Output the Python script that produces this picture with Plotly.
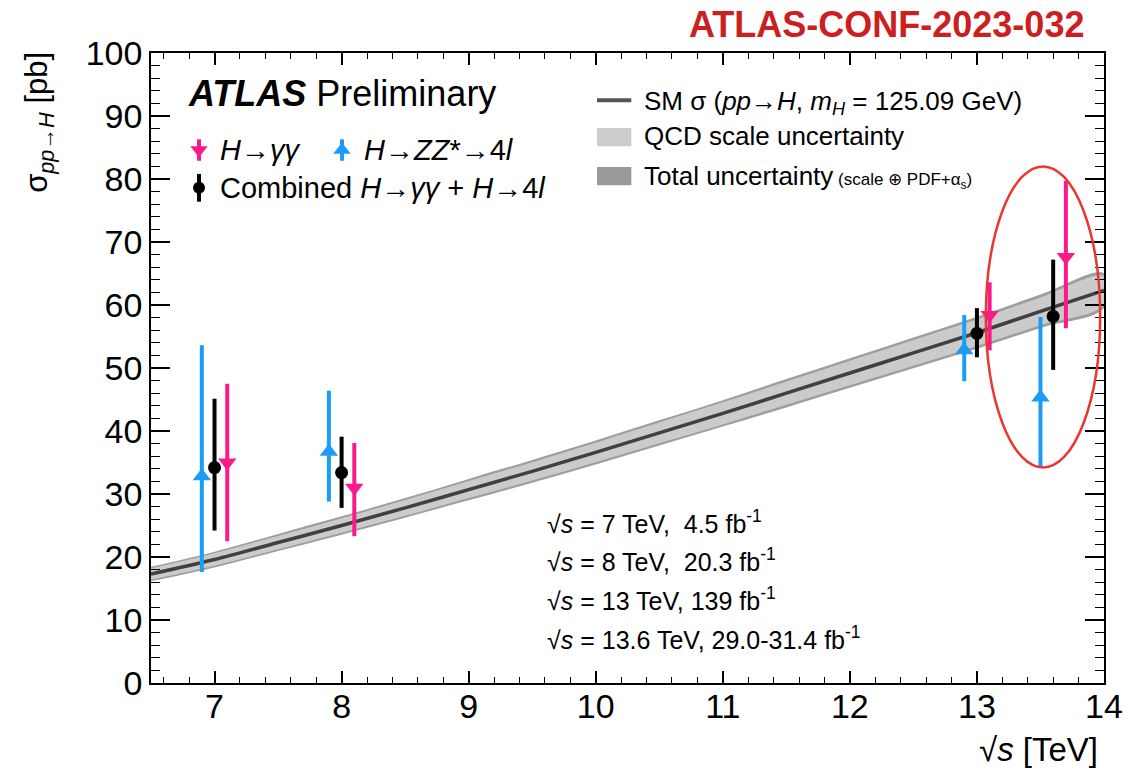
import plotly.graph_objects as go

# ---- measured cross sections (pb) at each centre-of-mass energy (TeV) ----
energies = [7.0, 8.0, 13.0, 13.6]
x_offset = 0.1  # horizontal displacement of the individual channels

gg_val = [35.0, 31.0, 58.4, 67.6]
gg_up = [12.5, 7.1, 5.2, 12.1]
gg_dn = [12.5, 7.7, 5.6, 11.3]

zz_val = [32.8, 36.7, 52.8, 45.3]
zz_up = [20.8, 9.7, 5.6, 12.8]
zz_dn = [15.2, 7.9, 4.9, 11.0]

comb_val = [34.2, 33.4, 55.5, 58.2]
comb_up = [10.9, 5.7, 4.0, 9.0]
comb_dn = [10.0, 5.6, 3.8, 8.5]

# ---- SM prediction and its uncertainty bands ----
sm_sqrts = [6.5, 7.0, 7.5, 8.0, 8.5, 9.0, 9.5, 10.0, 10.5, 11.0, 11.5,
            12.0, 12.5, 13.0, 13.5, 14.0]
sm_xsec = [17.3, 19.6, 22.3, 25.0, 27.8, 30.7, 33.6, 36.6, 39.7, 42.8, 46.0,
           49.2, 52.4, 55.6, 59.0, 62.3]
tot_unc = [1.15, 1.25, 1.35, 1.45, 1.55, 1.7, 1.8, 1.9, 2.0, 2.1, 2.25, 2.35,
           2.45, 2.55, 2.65, 2.75]
scale_unc = [0.9, 1.0, 1.05, 1.15, 1.25, 1.35, 1.45, 1.55, 1.65, 1.75, 1.85,
             1.95, 2.05, 2.1, 2.2, 2.25]

lumi_lines = [
    "√<i>s</i> = 7 TeV,  4.5 fb<sup>-1</sup>",
    "√<i>s</i> = 8 TeV,  20.3 fb<sup>-1</sup>",
    "√<i>s</i> = 13 TeV, 139 fb<sup>-1</sup>",
    "√<i>s</i> = 13.6 TeV, 29.0-31.4 fb<sup>-1</sup>",
]

PINK = "#fa1a8c"
BLUE = "#1a9cf7"
FONT = "Liberation Sans, Arial, Helvetica, sans-serif"

fig = go.Figure()


def band(unc, color):
    upper = [v + u for v, u in zip(sm_xsec, unc)]
    lower = [v - u for v, u in zip(sm_xsec, unc)]
    fig.add_trace(go.Scatter(
        x=sm_sqrts + sm_sqrts[::-1], y=upper + lower[::-1],
        fill="toself", fillcolor=color, mode="lines",
        line=dict(width=0, color=color, shape="spline"),
        hoverinfo="skip", showlegend=False))


band(tot_unc, "#9e9e9e")
band(scale_unc, "#cbcbcb")
fig.add_trace(go.Scatter(
    x=sm_sqrts, y=sm_xsec, mode="lines",
    line=dict(color="#404040", width=3.5, shape="spline"),
    hoverinfo="skip", showlegend=False))


def channel(xs, ys, up, dn, color, symbol, size):
    fig.add_trace(go.Scatter(
        x=xs, y=ys, mode="markers",
        marker=dict(color=color, symbol=symbol, size=size, line=dict(width=0)),
        error_y=dict(type="data", symmetric=False, array=up, arrayminus=dn,
                     color=color, thickness=4, width=0),
        showlegend=False))


channel([e - x_offset for e in energies], zz_val, zz_up, zz_dn,
        BLUE, "triangle-up", 16)
channel([e + x_offset for e in energies], gg_val, gg_up, gg_dn,
        PINK, "triangle-down", 16)
channel(energies, comb_val, comb_up, comb_dn, "black", "circle", 13)

# ---- legend symbols on a hidden unit-square overlay ----
leg_x = [0.0504, 0.2004, 0.0504]
leg_y = [0.846, 0.846, 0.786]
leg_bar = [0.017, 0.017, 0.022]
leg_color = [PINK, BLUE, "black"]
leg_symbol = ["triangle-down", "triangle-up", "circle"]
leg_size = [15, 15, 12]
for lx, ly, lb, lc, ls, lz in zip(leg_x, leg_y, leg_bar, leg_color,
                                  leg_symbol, leg_size):
    fig.add_trace(go.Scatter(
        x=[lx], y=[ly], xaxis="x2", yaxis="y2", mode="markers",
        marker=dict(color=lc, symbol=ls, size=lz),
        error_y=dict(type="data", array=[lb], color=lc, thickness=4, width=0),
        showlegend=False, hoverinfo="skip"))

# highlight around the 13.6 TeV results
fig.add_shape(type="circle", xref="x", yref="y",
              x0=13.07, x1=13.97, y0=34.2, y1=82.0,
              line=dict(color="#e8372e", width=2.5))

# right-hand legend samples
fig.add_shape(type="line", xref="paper", yref="paper",
              x0=0.468, x1=0.504, y0=0.925, y1=0.925,
              line=dict(color="#555555", width=4))
fig.add_shape(type="rect", xref="paper", yref="paper",
              x0=0.468, x1=0.504, y0=0.852, y1=0.881,
              fillcolor="#cccccc", line=dict(width=0))
fig.add_shape(type="rect", xref="paper", yref="paper",
              x0=0.468, x1=0.504, y0=0.790, y1=0.819,
              fillcolor="#9a9a9a", line=dict(width=0))


def note(text, x, y, size, xanchor="left", yanchor="middle", color="black",
         angle=0):
    fig.add_annotation(text=text, xref="paper", yref="paper", x=x, y=y,
                       xanchor=xanchor, yanchor=yanchor, showarrow=False,
                       textangle=angle,
                       font=dict(family=FONT, size=size, color=color))


note("<b>ATLAS-CONF-2023-032</b>", 0.772, 1.045, 36, xanchor="center",
     color="#cc2020")
note("<b><i>ATLAS</i></b> Preliminary", 0.037, 0.935, 36)
note("<i>H</i>→<i>γγ</i>", 0.070, 0.846, 29)
note("<i>H</i>→<i>ZZ</i>*→4<i>l</i>", 0.221, 0.846, 29)
note("Combined <i>H</i>→<i>γγ</i> + <i>H</i>→4<i>l</i>", 0.070, 0.786, 29)

note("SM σ (<i>pp</i>→<i>H</i>, <i>m<sub>H</sub></i> = 125.09 GeV)",
     0.515, 0.922, 26)
note("QCD scale uncertainty", 0.515, 0.869, 26)
note("Total uncertainty<span style='font-size:17px'> (scale ⊕ PDF+α<sub>s</sub>)</span>",
     0.515, 0.804, 26)

for i, line in enumerate(lumi_lines):
    note(line, 0.413, 0.256 - i * 0.0615, 25)

note("√<i>s</i> [TeV]", 0.996, -0.106, 33, xanchor="right")
note("σ<sub><i>pp</i>→<i>H</i></sub> [pb]", -0.117, 1.005, 31,
     xanchor="center", yanchor="top", angle=-90)

axis_common = dict(
    showline=True, linecolor="black", linewidth=1.5, mirror="ticks",
    ticks="inside", tickcolor="black", tickwidth=1.5,
    showgrid=False, zeroline=False,
    tickfont=dict(family=FONT, size=34, color="black"),
)

fig.update_layout(
    width=1136, height=774,
    margin=dict(l=151, r=32, t=53, b=91),
    paper_bgcolor="white", plot_bgcolor="white",
    showlegend=False,
    xaxis=dict(range=[6.5, 14], dtick=1, ticklen=12, ticklabelstandoff=-8,
               minor=dict(dtick=0.2, ticklen=6, ticks="inside",
                          tickcolor="black", tickwidth=1.2),
               **axis_common),
    yaxis=dict(range=[0, 100], dtick=10, ticklen=19,
               minor=dict(dtick=2, ticklen=9, ticks="inside",
                          tickcolor="black", tickwidth=1.2),
               **axis_common),
    xaxis2=dict(overlaying="x", range=[0, 1], visible=False),
    yaxis2=dict(overlaying="y", range=[0, 1], visible=False),
)

fig.write_html("out.html")
